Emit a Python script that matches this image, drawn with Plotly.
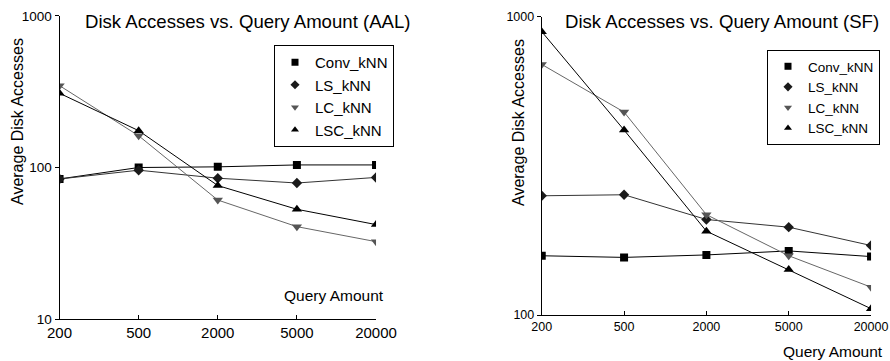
import plotly.graph_objects as go

categories = ["200", "500", "2000", "5000", "20000"]

aal_conv = [84, 100, 101, 104, 104]
aal_ls = [84, 96, 85, 79, 86]
aal_lc = [347, 162, 61, 40.7, 32.4]
aal_lsc = [309, 175, 76, 53, 42]

sf_conv = [158, 156, 159, 164, 157]
sf_ls = [251, 253, 209, 197, 171]
sf_lc = [692, 479, 217, 158, 124]
sf_lsc = [891, 417, 191, 142, 105]

names = ["Conv_kNN", "LS_kNN", "LC_kNN", "LSC_kNN"]
symbols = ["square", "diamond", "triangle-down", "triangle-up"]
msizes = [8, 8, 9, 9]
mcolors = ["#000000", "#1a1a1a", "#555555", "#000000"]
lcolors = ["#000000", "#333333", "#666666", "#000000"]

FONT = "Liberation Sans, Arial, sans-serif"

fig = go.Figure()

panels = [
    ([aal_conv, aal_ls, aal_lc, aal_lsc], "x", "y", "legend"),
    ([sf_conv, sf_ls, sf_lc, sf_lsc], "x2", "y2", "legend2"),
]
for series, xa, ya, lg in panels:
    for i, vals in enumerate(series):
        fig.add_trace(go.Scatter(
            x=categories, y=vals, mode="lines+markers", xaxis=xa, yaxis=ya,
            line=dict(color=lcolors[i], width=1),
            marker=dict(symbol=symbols[i], size=msizes[i], color=mcolors[i]),
            showlegend=False, name=names[i]))
    for i in range(4):
        fig.add_trace(go.Scatter(
            x=[None], y=[None], mode="markers", xaxis=xa, yaxis=ya,
            marker=dict(symbol=symbols[i], size=7, color=mcolors[i]),
            name=names[i], legend=lg, showlegend=True))

axis_common = dict(showgrid=False, zeroline=False, showline=True, linecolor="black",
                   linewidth=1, ticks="outside", ticklen=4, tickcolor="black")

fig.update_layout(
    width=890, height=361,
    margin=dict(l=0, r=0, t=0, b=0, autoexpand=False),
    paper_bgcolor="white", plot_bgcolor="white",
    font=dict(family=FONT, color="black", size=14),
    xaxis=dict(domain=[0.0669, 0.4225], type="category", range=[0, 4],
               **{**axis_common, "ticks": "inside"}, tickfont=dict(size=15)),
    yaxis=dict(domain=[0.1163, 0.9557], type="log", range=[1, 3],
               tickvals=[10, 100, 1000], ticktext=["10", "100", "1000"],
               **axis_common, tickfont=dict(size=13.5)),
    xaxis2=dict(domain=[0.6087, 0.9787], type="category", range=[0, 4],
                **{**axis_common, "ticks": "inside"}, tickfont=dict(size=12.5), anchor="y2"),
    yaxis2=dict(domain=[0.1274, 0.9537], type="log", range=[2, 3],
                tickvals=[100, 1000], ticktext=["100", "1000"],
                **axis_common, tickfont=dict(size=12.5), anchor="x2"),
    legend=dict(x=394/890, y=1-45/361, xanchor="right", yanchor="top",
                bordercolor="black", borderwidth=1, bgcolor="white",
                font=dict(size=15), itemwidth=30, tracegroupgap=0),
    legend2=dict(x=880/890, y=1-50/361, xanchor="right", yanchor="top",
                 bordercolor="black", borderwidth=1, bgcolor="white",
                 font=dict(size=13.5), itemwidth=30, tracegroupgap=0),
    annotations=[
        dict(text="Disk Accesses vs. Query Amount (AAL)", x=248/890, y=1-22/361,
             xref="paper", yref="paper", showarrow=False, font=dict(size=18.6),
             xanchor="center", yanchor="middle"),
        dict(text="Disk Accesses vs. Query Amount (SF)", x=722/890, y=1-22/361,
             xref="paper", yref="paper", showarrow=False, font=dict(size=18.6),
             xanchor="center", yanchor="middle"),
        dict(text="Average Disk Accesses", x=17/890, y=1-122/361, textangle=-90,
             xref="paper", yref="paper", showarrow=False, font=dict(size=16),
             xanchor="center", yanchor="middle"),
        dict(text="Average Disk Accesses", x=518/890, y=1-123/361, textangle=-90,
             xref="paper", yref="paper", showarrow=False, font=dict(size=16),
             xanchor="center", yanchor="middle"),
        dict(text="Query Amount", x=334/890, y=1-295/361,
             xref="paper", yref="paper", showarrow=False, font=dict(size=15.5),
             xanchor="center", yanchor="middle"),
        dict(text="Query Amount", x=833/890, y=1-351/361,
             xref="paper", yref="paper", showarrow=False, font=dict(size=15.5),
             xanchor="center", yanchor="middle"),
    ],
)

fig.write_html("out.html", config={"displayModeBar": False},
               post_script="document.body.style.margin='0';")
